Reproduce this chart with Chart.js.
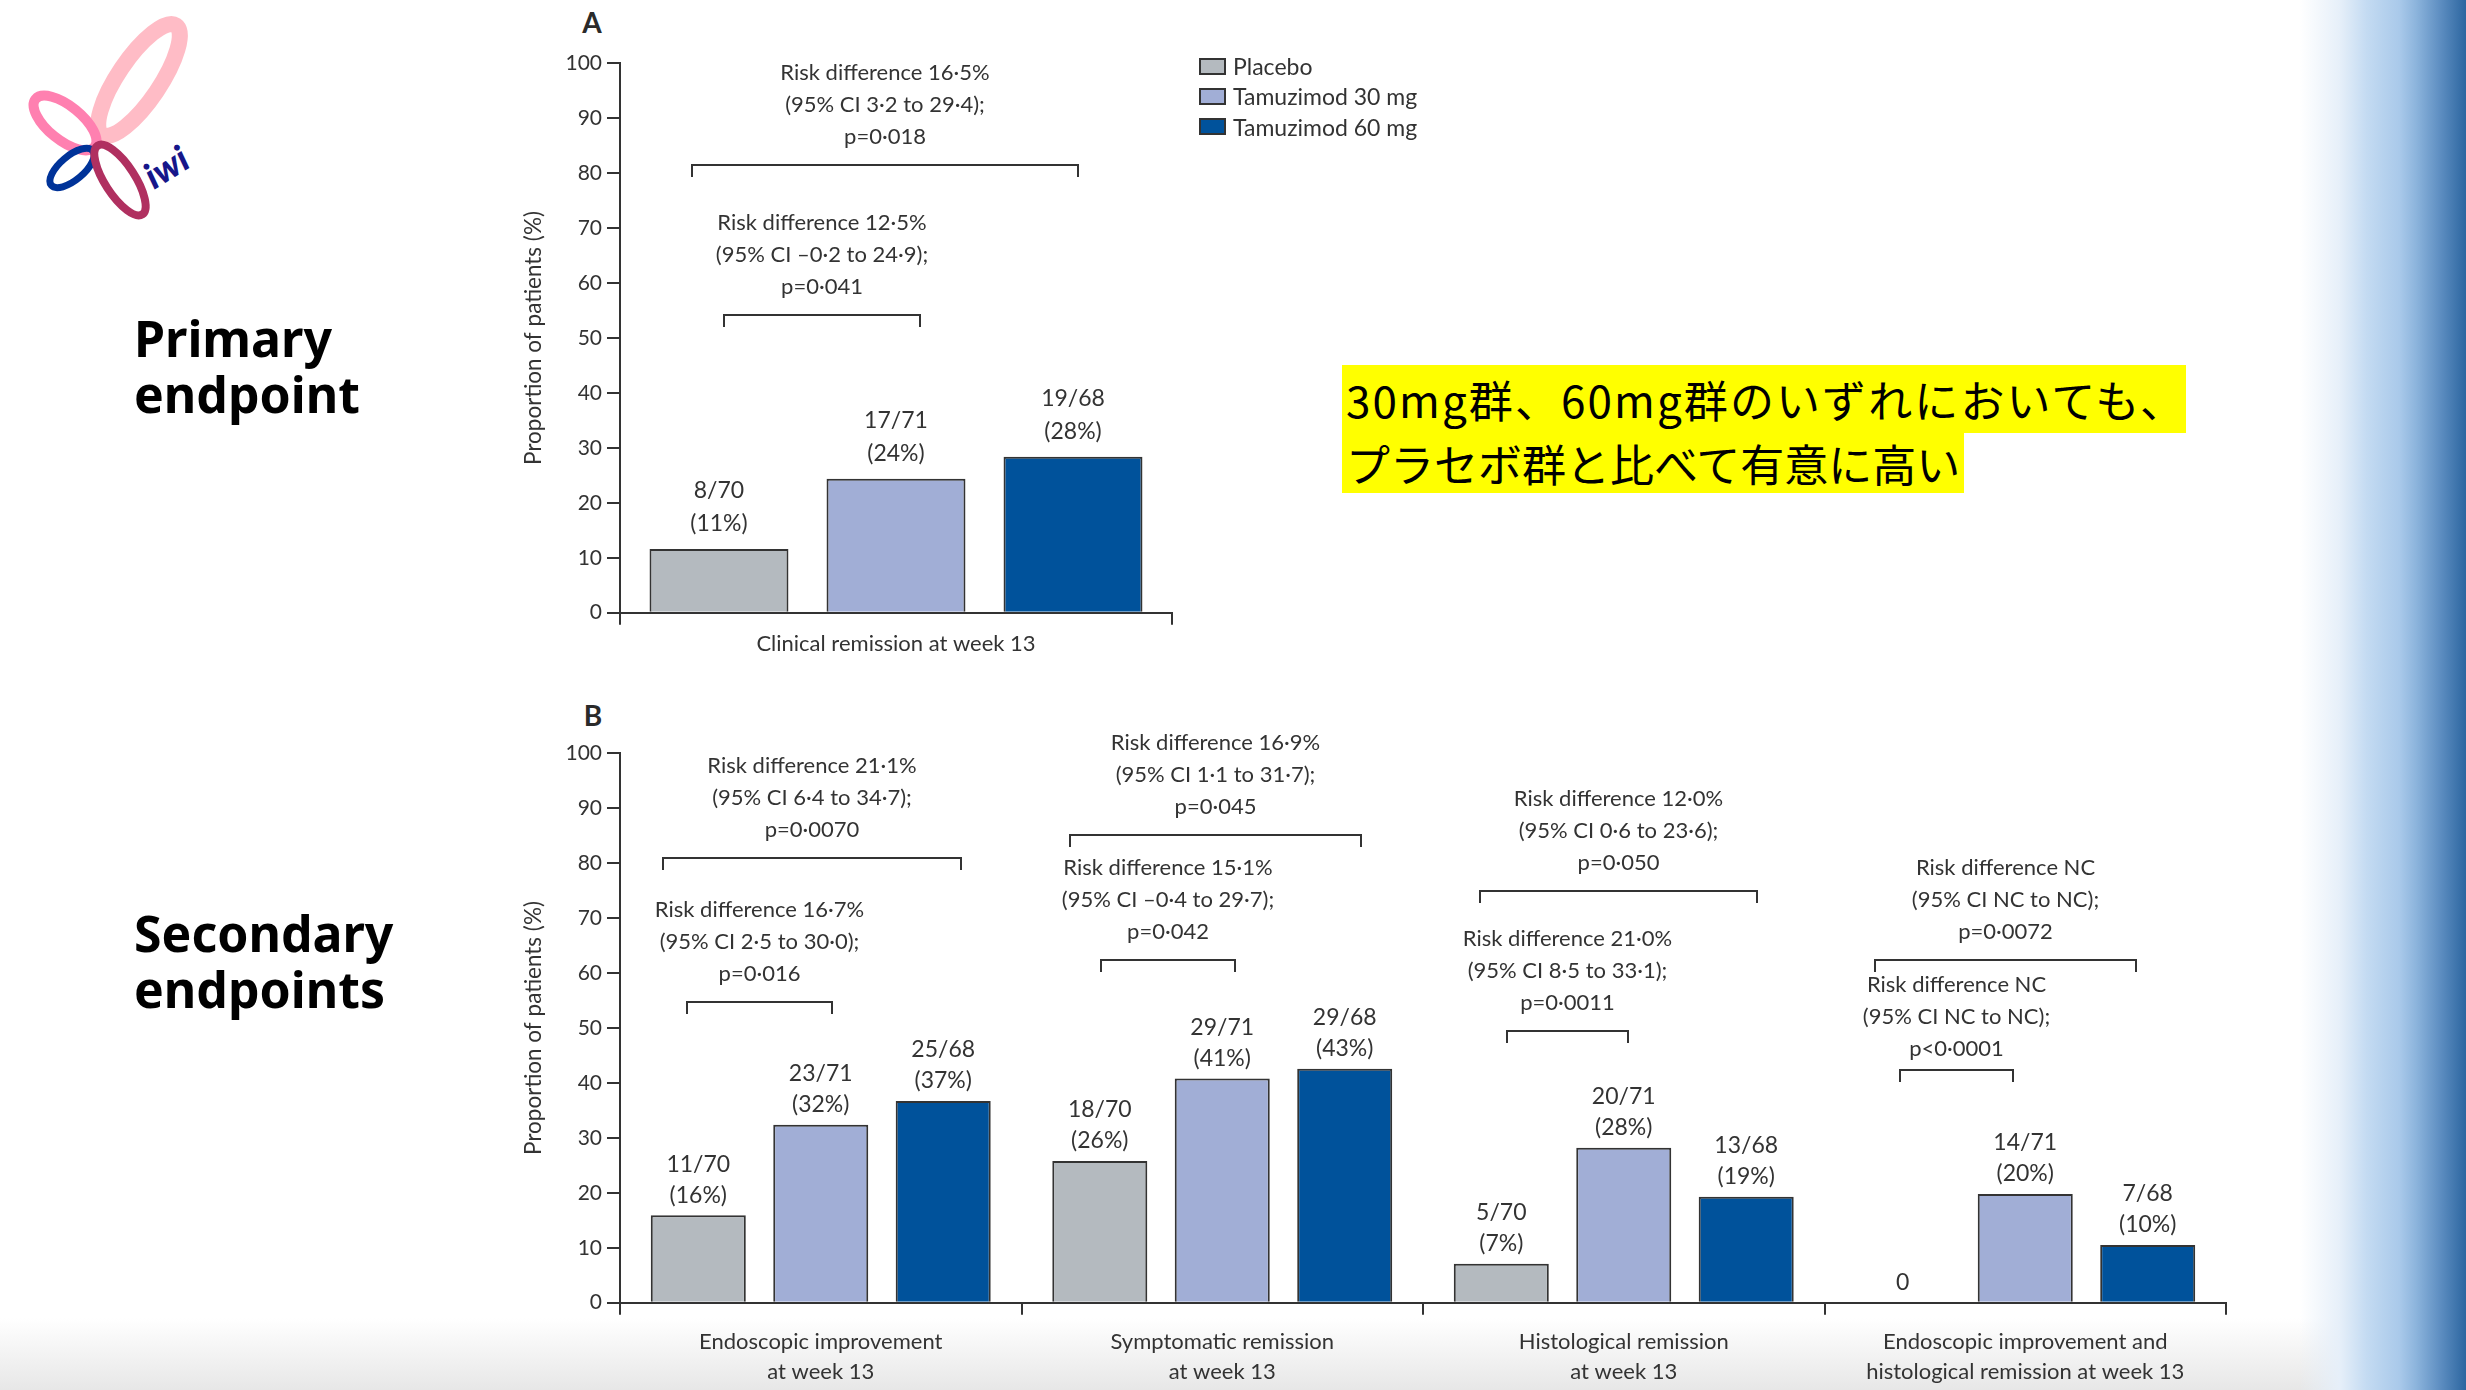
<!DOCTYPE html>
<html>
<head>
<meta charset="utf-8">
<script src="https://cdn.jsdelivr.net/npm/chart.js@4.4.1/dist/chart.umd.min.js"></script>
<style>
  html, body { margin: 0; padding: 0; background: #fff; }
  #page { position: relative; width: 2466px; height: 1390px; overflow: hidden; background: #fff; font-family: Lato, sans-serif; color: #333; }
  .abs { position: absolute; }
  #floor { left: 0; top: 1318px; width: 2466px; height: 72px; background: linear-gradient(#fff, #e7e7e7); }
  #sidebar { left: 2300px; top: 0; width: 166px; height: 1390px;
    background: linear-gradient(to right, rgba(255,255,255,0) 0%, #e6eff9 24%, #c4dbf2 40%, #a9c9ea 60%, #8cb4dc 70%, #5f8fc2 84%, #2c66a0 100%); }
  .panel-tag { font-weight: 700; font-size: 28px; line-height: 32px; transform: translate(-50%, -50%); color: #2a2a2a; }
  .endpoint { font-family: "Noto Sans", sans-serif; font-weight: 700; font-size: 50px; line-height: 56px; color: #000; }
  .hl { font-family: "Noto Sans CJK JP", sans-serif; font-size: 44px; color: #000; background: #ffff00; white-space: nowrap; }
  #legend { left: 1199px; top: 51px; font-size: 23px; }
  #legend .row { height: 30.3px; line-height: 30px; display: flex; align-items: center; white-space: nowrap; }
  #legend .sw { display: inline-block; width: 27px; height: 17px; box-sizing: border-box; border: 2px solid #333; margin-right: 7px; }
</style>
</head>
<body>
<div id="page">
  <div id="floor" class="abs"></div>
  <div id="sidebar" class="abs"></div>

  <svg class="abs" style="left:0;top:0" width="240" height="240">
    <ellipse cx="139" cy="80" rx="66" ry="21" transform="rotate(-56 139 80)" fill="none" stroke="#ffbcc6" stroke-width="16"/>
    <ellipse cx="65" cy="123" rx="38" ry="17" transform="rotate(39 65 123)" fill="none" stroke="#ff80b0" stroke-width="10"/>
    <ellipse cx="72" cy="168" rx="27" ry="12" transform="rotate(-40 72 168)" fill="none" stroke="#003399" stroke-width="7"/>
    <ellipse cx="120" cy="180" rx="41" ry="15" transform="rotate(57 120 180)" fill="none" stroke="#b03060" stroke-width="8"/>
    <text x="154" y="190" transform="rotate(-32 154 190)" font-family="Lato" font-style="italic" font-weight="900" font-size="36" fill="#16168a">iwi</text>
  </svg>

  <div class="abs endpoint" style="left:134px;top:310px;">Primary<br>endpoint</div>
  <div class="abs endpoint" style="left:134px;top:905px;">Secondary<br>endpoints</div>

  <div class="abs panel-tag" style="left:592px;top:22px;">A</div>
  <div class="abs panel-tag" style="left:593px;top:715px;">B</div>

  <canvas id="chartA" class="abs" style="left:480px;top:0px;" width="760" height="690"></canvas>
  <canvas id="chartB" class="abs" style="left:480px;top:690px;" width="1800" height="700"></canvas>

  <div id="legend" class="abs"></div>

  <div class="abs hl" style="left:1342px;top:365px;height:68px;line-height:68px;padding:0 0 0 4px;letter-spacing:2.1px;">30mg群、60mg群のいずれにおいても、</div>
  <div class="abs hl" style="left:1342px;top:433px;height:60px;line-height:60px;padding:0 4px 0 4px;">プラセボ群と比べて有意に高い</div>
</div>

<script>
// ---- data ----
const seriesNames = ['Placebo', 'Tamuzimod 30 mg', 'Tamuzimod 60 mg'];
const seriesColors = ['#b4babf', '#a1aed6', '#00529b'];

const yMin = 0;
const yMax = 100;
const yStep = 10;

// Panel A: primary endpoint
const categoriesA = ['Clinical remission at week 13'];
const placeboA = [11.6];
const dose30A = [24.4];
const dose60A = [28.4];
const barTextA = [
  [['8/70', '(11%)']],
  [['17/71', '(24%)']],
  [['19/68', '(28%)']]
];

// Panel B: secondary endpoints
const categoriesB = [
  ['Endoscopic improvement', 'at week 13'],
  ['Symptomatic remission', 'at week 13'],
  ['Histological remission', 'at week 13'],
  ['Endoscopic improvement and', 'histological remission at week 13']
];
const placeboB = [15.9, 25.8, 7.1, 0];
const dose30B = [32.4, 40.8, 28.2, 19.8];
const dose60B = [36.7, 42.6, 19.3, 10.5];
const barTextB = [
  [['11/70', '(16%)'], ['18/70', '(26%)'], ['5/70', '(7%)'], ['0']],
  [['23/71', '(32%)'], ['29/71', '(41%)'], ['20/71', '(28%)'], ['14/71', '(20%)']],
  [['25/68', '(37%)'], ['29/68', '(43%)'], ['13/68', '(19%)'], ['7/68', '(10%)']]
];

// risk difference brackets: category, ends in category units, level in %
const comparisonsA = [
  { cat: 0, from: -0.37, to: 0.33, level: 81.4, text: ['Risk difference 16·5%', '(95% CI 3·2 to 29·4);', 'p=0·018'] },
  { cat: 0, from: -0.312, to: 0.043, level: 54.1, text: ['Risk difference 12·5%', '(95% CI –0·2 to 24·9);', 'p=0·041'] }
];
const comparisonsB = [
  { cat: 0, from: -0.393, to: 0.350, level: 80.9, text: ['Risk difference 21·1%', '(95% CI 6·4 to 34·7);', 'p=0·0070'] },
  { cat: 0, from: -0.333, to: 0.027, level: 54.7, text: ['Risk difference 16·7%', '(95% CI 2·5 to 30·0);', 'p=0·016'] },
  { cat: 1, from: -0.379, to: 0.346, level: 85.2, text: ['Risk difference 16·9%', '(95% CI 1·1 to 31·7);', 'p=0·045'] },
  { cat: 1, from: -0.301, to: 0.031, level: 62.3, text: ['Risk difference 15·1%', '(95% CI –0·4 to 29·7);', 'p=0·042'] },
  { cat: 2, from: -0.358, to: 0.333, level: 74.9, text: ['Risk difference 12·0%', '(95% CI 0·6 to 23·6);', 'p=0·050'] },
  { cat: 2, from: -0.290, to: 0.011, level: 49.5, text: ['Risk difference 21·0%', '(95% CI 8·5 to 33·1);', 'p=0·0011'] },
  { cat: 3, from: -0.373, to: 0.276, level: 62.4, text: ['Risk difference NC', '(95% CI NC to NC);', 'p=0·0072'] },
  { cat: 3, from: -0.311, to: -0.030, level: 42.3, text: ['Risk difference NC', '(95% CI NC to NC);', 'p<0·0001'], gap: 21 }
];

// ---- legend ----
document.getElementById('legend').innerHTML = seriesNames.map((name, i) =>
  `<div class="row"><span class="sw" style="background:${seriesColors[i]}"></span><span>${name}</span></div>`
).join('');

Chart.defaults.font.family = 'Lato, sans-serif';
Chart.defaults.color = '#333';

// bar counts and bracket annotations
function annotations(barText, comparisons, gapNear, gapLine) {
  return {
    id: 'annotations',
    afterDatasetsDraw(chart) {
      const { ctx, scales: { x, y } } = chart;
      ctx.save();
      ctx.fillStyle = '#333';
      ctx.strokeStyle = '#333';
      ctx.lineWidth = 2;
      ctx.textAlign = 'center';
      ctx.textBaseline = 'middle';

      ctx.font = '23px Lato';
      chart.data.datasets.forEach((ds, i) => {
        chart.getDatasetMeta(i).data.forEach((bar, j) => {
          const lines = barText[i][j];
          lines.forEach((t, k) => {
            const up = gapNear + (lines.length - 1 - k) * gapLine;
            ctx.fillText(t, bar.x, bar.y - up);
          });
        });
      });

      ctx.font = '22px Lato';
      const catW = x.width / chart.data.labels.length;
      comparisons.forEach(c => {
        const cx = x.getPixelForValue(c.cat);
        const x1 = Math.round(cx + c.from * catW);
        const x2 = Math.round(cx + c.to * catW);
        const yy = Math.round(y.getPixelForValue(c.level));
        const gap = c.gap || 28;
        ctx.beginPath();
        ctx.moveTo(x1, yy + 12);
        ctx.lineTo(x1, yy);
        ctx.lineTo(x2, yy);
        ctx.lineTo(x2, yy + 12);
        ctx.stroke();
        c.text.forEach((t, k) => {
          ctx.fillText(t, (x1 + x2) / 2, yy - gap - (c.text.length - 1 - k) * 32);
        });
      });
      ctx.restore();
    }
  };
}

function buildChart(id, cfg) {
  return new Chart(document.getElementById(id), {
    type: 'bar',
    data: {
      labels: cfg.labels,
      datasets: cfg.values.map((vals, i) => ({
        label: seriesNames[i],
        data: vals,
        backgroundColor: seriesColors[i],
        borderColor: '#333',
        borderWidth: 2,
        categoryPercentage: cfg.catPct,
        barPercentage: cfg.barPct
      }))
    },
    options: {
      responsive: false,
      animation: false,
      layout: { padding: { top: 63.3, right: cfg.padRight, bottom: 0, left: 0 } },
      plugins: { legend: { display: false }, tooltip: { enabled: false } },
      scales: {
        x: {
          offset: true,
          afterFit: (scale) => { scale.height = cfg.xHeight; },
          grid: { offset: true, drawOnChartArea: false, drawTicks: true, tickLength: 12, color: '#333', lineWidth: 2 },
          border: { display: true, color: '#333', width: 2 },
          ticks: { autoSkip: false, maxRotation: 0, padding: cfg.xPad, color: '#333', font: { size: 22, lineHeight: 1.364 } }
        },
        y: {
          min: yMin,
          max: yMax,
          afterFit: (scale) => { scale.width = 140; },
          grid: { drawOnChartArea: false, drawTicks: true, tickLength: 13, color: '#333', lineWidth: 2 },
          border: { display: true, color: '#333', width: 2 },
          ticks: { stepSize: yStep, padding: 5, color: '#333', font: { size: 21 } },
          title: { display: true, text: 'Proportion of patients (%)', color: '#333', font: { size: 22.5 }, padding: { top: 40, bottom: 0 } }
        }
      }
    },
    plugins: [annotations(cfg.barText, cfg.comparisons, cfg.gapNear, cfg.gapLine)]
  });
}

buildChart('chartA', {
  labels: categoriesA,
  values: [placeboA, dose30A, dose60A],
  barText: barTextA,
  comparisons: comparisonsA,
  catPct: 0.962, barPct: 0.785,
  padRight: 68, xHeight: 77.3, xPad: 4,
  gapNear: 25, gapLine: 33
});

buildChart('chartB', {
  labels: categoriesB,
  values: [placeboB, dose30B, dose60B],
  barText: barTextB,
  comparisons: comparisonsB,
  catPct: 0.915, barPct: 0.776,
  padRight: 54, xHeight: 87.3, xPad: 12,
  gapNear: 20, gapLine: 31
});
</script>
</body>
</html>
